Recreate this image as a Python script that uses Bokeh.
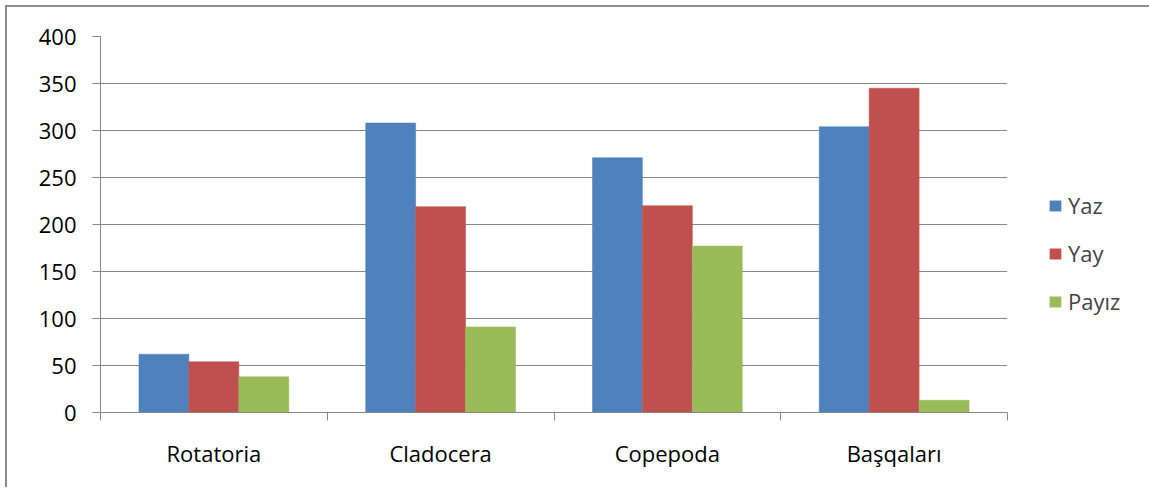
from bokeh.plotting import figure
from bokeh.models import ColumnDataSource, FixedTicker, Range1d, Legend, LegendItem
from bokeh.transform import dodge
from bokeh.embed import file_html
from bokeh.resources import INLINE

categories = ["Rotatoria", "Cladocera", "Copepoda", "Başqaları"]
yaz = [62, 308, 271, 304]
yay = [54, 219, 220, 345]
payiz = [38, 91, 177, 13]
series_names = ["Yaz", "Yay", "Payız"]
y_ticks = [0, 50, 100, 150, 200, 250, 300, 350, 400]

colors = ["#4F81BD", "#C0504D", "#9BBB59"]
FONT = "Open Sans"
FS = "22px"
GRID = "#868686"

idx = [i + 0.5 for i in range(len(categories))]
source = ColumnDataSource(data=dict(x=idx, yaz=yaz, yay=yay, payiz=payiz))

p = figure(frame_width=907, frame_height=376, output_backend="svg", toolbar_location=None,
           x_range=Range1d(0, len(categories)), y_range=Range1d(0, 400),
           min_border_left=93, min_border_top=29, min_border_bottom=75,
           min_border_right=134,
           styles={"margin-top": "5px", "margin-left": "5px",
                   "border-top": "2px solid #8c8c8c", "border-left": "2px solid #8c8c8c"})
p.outline_line_color = None
p.background_fill_color = "white"
p.border_fill_color = "white"

bw = 50 / 227
renderers = []
for off, col, c in zip([-bw, 0, bw], ["yaz", "yay", "payiz"], colors):
    r = p.vbar(x=dodge("x", off, range=p.x_range), top=col, width=bw, bottom=0,
               source=source, fill_color=c, line_color=c, line_width=0.5)
    renderers.append(r)

# y axis
p.yaxis.ticker = FixedTicker(ticks=y_ticks, minor_ticks=[])
p.yaxis.axis_line_color = GRID
p.yaxis.major_tick_line_color = GRID
p.yaxis.major_tick_out = 8
p.yaxis.major_tick_in = 0
p.yaxis.minor_tick_line_color = None
p.yaxis.major_label_standoff = 16
p.yaxis.major_label_text_font = FONT
p.yaxis.major_label_text_font_size = FS
p.yaxis.major_label_text_color = "#000000"

# x axis
p.xaxis.ticker = FixedTicker(ticks=idx, minor_ticks=list(range(len(categories) + 1)))
p.xaxis.major_label_overrides = {v: c for v, c in zip(idx, categories)}
p.xaxis.axis_line_color = GRID
p.xaxis.major_tick_line_color = None
p.xaxis.major_tick_out = 0
p.xaxis.major_tick_in = 0
p.xaxis.minor_tick_line_color = GRID
p.xaxis.minor_tick_out = 8
p.xaxis.minor_tick_in = 0
p.xaxis.major_label_standoff = 17
p.xaxis.major_label_text_font = FONT
p.xaxis.major_label_text_font_size = FS
p.xaxis.major_label_text_color = "#000000"

p.xgrid.grid_line_color = None
p.ygrid.grid_line_color = GRID
p.ygrid.ticker = FixedTicker(ticks=y_ticks)

legend = Legend(items=[LegendItem(label=n, renderers=[r]) for n, r in zip(series_names, renderers)],
                location=(41, 96), orientation="vertical",
                glyph_width=14, glyph_height=13, label_height=24, spacing=18,
                label_standoff=6, padding=0, margin=0,
                label_text_font=FONT, label_text_font_size=FS,
                border_line_color=None, background_fill_alpha=0)
p.add_layout(legend, "right")

open("out.html", "w").write(file_html(p, INLINE))
